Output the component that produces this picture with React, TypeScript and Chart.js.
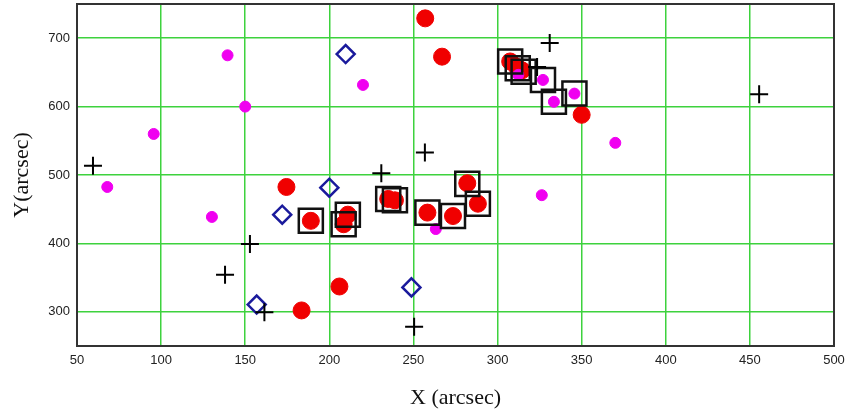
import React, { useEffect, useRef } from "react";
import { Chart, registerables } from "chart.js";

Chart.register(...registerables);

// Tick values
const xTicks = [50, 100, 150, 200, 250, 300, 350, 400, 450, 500];
const yTicks = [300, 400, 500, 600, 700];

// Red filled circles
const redX = [174.5, 189, 211, 208.5, 235, 239, 257, 267, 258.3, 273.5, 282, 288.3, 183.5, 206, 307.5, 311.5, 314.5, 350];
const redY = [482.5, 433, 442, 428, 465, 463, 729, 673, 445, 440, 488, 458, 302, 337, 666, 658, 653, 588];

// Black open squares
const squareX = [189, 211, 208.5, 235, 239, 258.3, 273.5, 282, 288.3, 307.5, 312, 315.5, 327, 333.5, 345.7];
const squareY = [433, 442, 428, 465, 463, 445, 440, 487, 458, 666, 656, 651, 639, 607, 619];

// Magenta small circles
const magentaX = [68, 95.6, 130.2, 139.5, 150, 220, 263.3, 312.3, 326.3, 327, 333.5, 345.7, 370];
const magentaY = [482.5, 560, 438.7, 675, 600, 631.7, 421, 646.4, 470.5, 639, 607, 619, 547];

// Blue open diamonds
const diamondX = [156.8, 172, 200, 209.7, 248.8];
const diamondY = [310.6, 442, 481.5, 676.8, 335.7];

// Black plus crosses
const plusX = [59.5, 138, 152.8, 161.4, 230.9, 250.4, 256.8, 323.5, 331, 455.5];
const plusY = [513.7, 354, 399, 299.5, 502.5, 278, 533, 658, 693, 618];

const pts = (xs: number[], ys: number[]) => xs.map((x, i) => ({ x, y: ys[i] }));

const frameBox = {
  id: "frameBox",
  beforeDatasetsDraw(chart: any) {
    const { ctx, chartArea } = chart;
    ctx.save();
    ctx.strokeStyle = "#333333";
    ctx.lineWidth = 2;
    ctx.strokeRect(chartArea.left, chartArea.top, chartArea.right - chartArea.left, chartArea.bottom - chartArea.top);
    ctx.restore();
  },
};

const GRID = "#3dd23d";

export default function App() {
  const ref = useRef<HTMLCanvasElement | null>(null);

  useEffect(() => {
    if (!ref.current) return;
    const chart = new Chart(ref.current, {
      type: "scatter",
      data: {
        datasets: [
          {
            label: "plus",
            data: pts(plusX, plusY),
            pointStyle: "cross",
            pointRadius: 9,
            borderColor: "#000000",
            backgroundColor: "#000000",
            borderWidth: 2,
            order: 1,
          },
          {
            label: "diamond",
            data: pts(diamondX, diamondY),
            pointStyle: "rectRot",
            pointRadius: 9,
            borderColor: "#1a1a9c",
            backgroundColor: "rgba(0,0,0,0)",
            borderWidth: 2.5,
            order: 2,
          },
          {
            label: "square",
            data: pts(squareX, squareY),
            pointStyle: "rect",
            pointRadius: 17,
            borderColor: "#111111",
            backgroundColor: "rgba(0,0,0,0)",
            borderWidth: 2.5,
            order: 3,
          },
          {
            label: "magenta",
            data: pts(magentaX, magentaY),
            pointStyle: "circle",
            pointRadius: 5.5,
            borderColor: "#f000f0",
            backgroundColor: "#f000f0",
            borderWidth: 1,
            order: 4,
          },
          {
            label: "red",
            data: pts(redX, redY),
            pointStyle: "circle",
            pointRadius: 8.5,
            borderColor: "#f00000",
            backgroundColor: "#f00000",
            borderWidth: 1,
            order: 5,
          },
        ],
      },
      options: {
        animation: false,
        responsive: true,
        maintainAspectRatio: false,
        layout: { autoPadding: false, padding: { top: 4, right: 11, left: 0, bottom: 0 } },
        plugins: { legend: { display: false }, tooltip: { enabled: false } },
        scales: {
          x: {
            type: "linear",
            min: 50,
            max: 500,
            afterBuildTicks: (scale: any) => {
              scale.ticks = xTicks.map((v) => ({ value: v }));
            },
            afterFit: (scale: any) => {
              scale.height = 71;
              scale.paddingLeft = 0;
              scale.paddingRight = 0;
            },
            border: { display: false },
            grid: { color: GRID, lineWidth: 1.5, drawTicks: false },
            ticks: {
              padding: 7,
              color: "#222222",
              font: { family: "'Liberation Sans', Arial, sans-serif", size: 13 },
              maxRotation: 0,
              autoSkip: false,
            },
            title: {
              display: true,
              text: "X (arcsec)",
              color: "#111111",
              font: { family: "'Liberation Serif', 'Times New Roman', serif", size: 22 },
              padding: { top: 0, bottom: 6 },
            },
          },
          y: {
            type: "linear",
            min: 250,
            max: 750,
            afterBuildTicks: (scale: any) => {
              scale.ticks = yTicks.map((v) => ({ value: v }));
            },
            afterFit: (scale: any) => {
              scale.width = 77;
              scale.paddingTop = 0;
              scale.paddingBottom = 0;
            },
            border: { display: false },
            grid: { color: GRID, lineWidth: 1.5, drawTicks: false },
            ticks: {
              padding: 7,
              color: "#222222",
              font: { family: "'Liberation Sans', Arial, sans-serif", size: 13 },
              autoSkip: false,
            },
            title: {
              display: true,
              text: "Y(arcsec)",
              color: "#111111",
              font: { family: "'Liberation Serif', 'Times New Roman', serif", size: 22 },
              padding: { top: 9, bottom: 0 },
            },
          },
        },
      },
      plugins: [frameBox],
    });
    return () => chart.destroy();
  }, []);

  return (
    <div style={{ position: "absolute", left: 0, top: 0, width: 845, height: 417, background: "#ffffff" }}>
      <canvas ref={ref} />
    </div>
  );
}
